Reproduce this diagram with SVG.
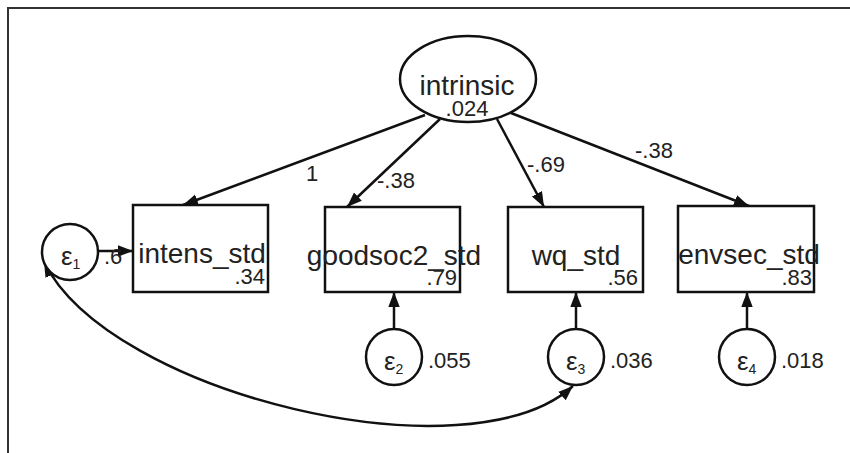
<svg xmlns="http://www.w3.org/2000/svg" width="850" height="453" viewBox="0 0 850 453">
<style>
.shape{fill:#fff;stroke:#111;stroke-width:2.5}
.line{fill:none;stroke:#111;stroke-width:2.5}
.lbl{font-family:"Liberation Sans",Arial,sans-serif;font-size:28px;fill:#222;text-anchor:middle}
.num{font-family:"Liberation Sans",Arial,sans-serif;font-size:22px;fill:#222}
.eps{font-family:"Liberation Sans",Arial,sans-serif;font-size:26px;fill:#222}
.sub{font-size:14px}
</style>
<defs>
<marker id="arr" viewBox="0 0 10 10" refX="10" refY="5" markerWidth="6" markerHeight="6" orient="auto-start-reverse" markerUnits="strokeWidth">
<path d="M0,1.2 L10,5 L0,8.8 z" fill="#111"/>
</marker>
</defs>
<rect width="850" height="453" fill="#fff"/>
<path d="M8,453 V8 H850" fill="none" stroke="#333" stroke-width="2"/>

<g id="connectors">
<path class="line" d="M425,115 L183,205" marker-end="url(#arr)"/>
<path class="line" d="M440,119 L347,207" marker-end="url(#arr)"/>
<path class="line" d="M497,119 L544,207" marker-end="url(#arr)"/>
<path class="line" d="M511,113 L749,206" marker-end="url(#arr)"/>
<path class="line" d="M98,251 L133,251" marker-end="url(#arr)"/>
<path class="line" d="M394,329 L394,292" marker-end="url(#arr)"/>
<path class="line" d="M576,329 L576,292" marker-end="url(#arr)"/>
<path class="line" d="M747,329 L747,292" marker-end="url(#arr)"/>
<path class="line" d="M44,262 C110,395 470,480 573,386" marker-start="url(#arr)" marker-end="url(#arr)"/>
<text class="num" x="306" y="181">1</text>
<text class="num" x="377" y="188">-.38</text>
<text class="num" x="527" y="172">-.69</text>
<text class="num" x="635" y="158">-.38</text>
<text class="num" x="104" y="264">.6</text>
</g>

<g id="intrinsic">
<ellipse class="shape" cx="468" cy="79" rx="68" ry="43"/>
<text class="lbl" x="467" y="95">intrinsic</text>
<text class="num" x="467" y="116" text-anchor="middle">.024</text>
</g>

<g id="intens_std">
<rect class="shape" x="133" y="205" width="135" height="87"/>
<text class="lbl" x="202" y="263">intens_std</text>
<text class="num" x="265" y="284" text-anchor="end">.34</text>
</g>

<g id="goodsoc2_std">
<rect class="shape" x="325" y="207" width="135" height="85"/>
<text class="lbl" x="394" y="265">goodsoc2_std</text>
<text class="num" x="457" y="285" text-anchor="end">.79</text>
</g>

<g id="wq_std">
<rect class="shape" x="508" y="207" width="135" height="85"/>
<text class="lbl" x="576" y="265">wq_std</text>
<text class="num" x="638" y="285" text-anchor="end">.56</text>
</g>

<g id="envsec_std">
<rect class="shape" x="678" y="206" width="136" height="86"/>
<text class="lbl" x="749" y="264">envsec_std</text>
<text class="num" x="812" y="285" text-anchor="end">.83</text>
</g>

<g id="e1">
<circle class="shape" cx="70" cy="252" r="28"/>
<text class="eps" x="61" y="265">ε<tspan class="sub" dy="4">1</tspan></text>
</g>

<g id="e2">
<circle class="shape" cx="394" cy="357" r="28"/>
<text class="eps" x="384" y="370">ε<tspan class="sub" dy="4">2</tspan></text>
<text class="num" x="428" y="368">.055</text>
</g>

<g id="e3">
<circle class="shape" cx="576" cy="357" r="28"/>
<text class="eps" x="566" y="370">ε<tspan class="sub" dy="4">3</tspan></text>
<text class="num" x="610" y="368">.036</text>
</g>

<g id="e4">
<circle class="shape" cx="747" cy="357" r="28"/>
<text class="eps" x="737" y="370">ε<tspan class="sub" dy="4">4</tspan></text>
<text class="num" x="781" y="368">.018</text>
</g>
</svg>
